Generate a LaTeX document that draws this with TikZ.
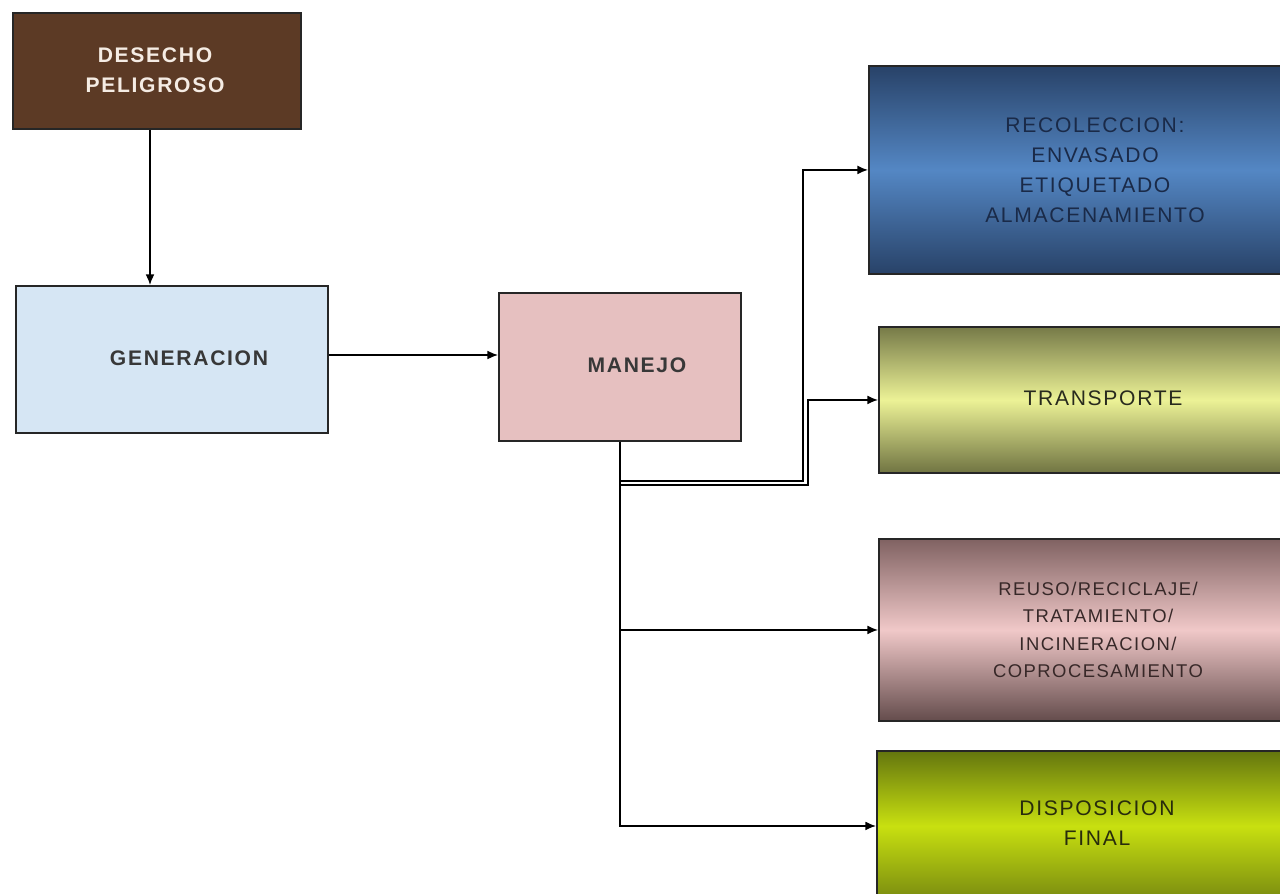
\documentclass[tikz,border=0pt]{standalone}
\usepackage{fontspec}
\setmainfont{Liberation Sans}[LetterSpace=8]
\usetikzlibrary{arrows.meta}
\definecolor{brownbox}{HTML}{5C3A25}
\definecolor{genblue}{HTML}{D6E6F4}
\definecolor{manpink}{HTML}{E6C0C0}
\tikzset{
  box/.style={draw=black!85, line width=1.1pt, anchor=north west, inner sep=0pt},
  txt/.style={align=center, inner sep=0pt, font=\fontsize{12}{17}\selectfont},
  arr/.style={draw=black, line width=0.8pt, -{Latex[length=6pt,width=5pt]}}
}
\begin{document}
\begin{tikzpicture}[x=0.02cm,y=-0.02cm]
\clip (0,0) rectangle (1280,893);
\fill[white] (0,0) rectangle (1280,893);
% boxes
\node[box, fill=brownbox, minimum width=5.76cm, minimum height=2.32cm] (desecho) at (12,12) {};
\node[box, fill=genblue, minimum width=6.24cm, minimum height=2.94cm] (gen) at (15,285) {};
\node[box, fill=manpink, minimum width=4.84cm, minimum height=2.96cm] (manejo) at (498,292) {};
\node[box, top color={rgb,255:red,40;green,66;blue,104}, bottom color={rgb,255:red,40;green,66;blue,104}, middle color={rgb,255:red,84;green,135;blue,196}, minimum width=9.04cm, minimum height=4.16cm] (recol) at (868,65) {};
\node[box, top color={rgb,255:red,118;green,122;blue,72}, bottom color={rgb,255:red,112;green,116;blue,66}, middle color={rgb,255:red,236;green,242;blue,150}, minimum width=8.6cm, minimum height=2.92cm] (transp) at (878,326) {};
\node[box, top color={rgb,255:red,128;green,98;blue,98}, bottom color={rgb,255:red,100;green,76;blue,76}, middle color={rgb,255:red,240;green,200;blue,200}, minimum width=8.6cm, minimum height=3.64cm] (reuso) at (878,538) {};
\node[box, top color={rgb,255:red,100;green,118;blue,14}, bottom color={rgb,255:red,120;green,138;blue,16}, middle color={rgb,255:red,200;green,224;blue,16}, minimum width=8.6cm, minimum height=3.0cm] (disp) at (876,750) {};
% texts
\node[txt, text={rgb,255:red,245;green,236;blue,228}, font=\fontsize{12}{17}\selectfont\bfseries] (tdes) at (155,70) {DESECHO\\PELIGROSO};
\node[txt, text=black!78, font=\fontsize{12}{17}\selectfont\bfseries] (tgen) at (189,358) {GENERACION};
\node[txt, text=black!78, font=\fontsize{12}{17}\selectfont\bfseries] (tman) at (637,365) {MANEJO};
\node[txt, text={rgb,255:red,26;green,42;blue,72}] (trecol) at (1095,170) {RECOLECCION:\\ENVASADO\\ETIQUETADO\\ALMACENAMIENTO};
\node[txt, text={rgb,255:red,40;green,42;blue,30}] (ttransp) at (1103,398) {TRANSPORTE};
\node[txt, text={rgb,255:red,55;green,40;blue,40}, font=\fontsize{10.5}{15.5}\selectfont] (treuso) at (1098,630) {REUSO/RECICLAJE/\\TRATAMIENTO/\\INCINERACION/\\COPROCESAMIENTO};
\node[txt, text={rgb,255:red,40;green,44;blue,12}] (tdisp) at (1097,823) {DISPOSICION\\FINAL};
% connectors
\coordinate (dx) at (150,0);
\coordinate (gy) at (0,355);
\coordinate (j1) at (803,481);
\coordinate (j2) at (808,485);
\draw[arr] (desecho.south -| dx) -- (gen.north -| dx);
\draw[arr] (gen.east |- gy) -- (manejo.west |- gy);
\draw[arr] (manejo.south) |- (disp.west);
\draw[arr] (manejo.south) |- (reuso.west);
\draw[arr] (manejo.south) |- (j1) |- (recol.west);
\draw[arr] (manejo.south) |- (j2) |- (transp.west);
\end{tikzpicture}
\end{document}
